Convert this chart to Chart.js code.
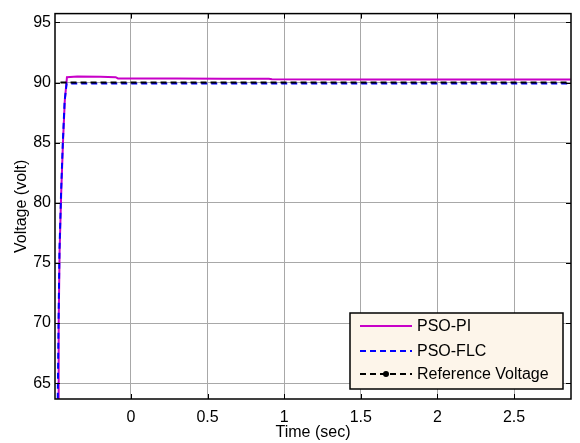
<!DOCTYPE html>
<html>
<head>
<meta charset="utf-8">
<script src="https://cdn.jsdelivr.net/npm/chart.js@4/dist/chart.umd.min.js"></script>
<style>
  html, body { margin: 0; padding: 0; background: #fff; }
  #wrap { width: 580px; height: 443px; }
</style>
</head>
<body>
<div id="wrap"><canvas id="VoltChart" width="580" height="443"></canvas></div>
<script>
// values
const piTime = [-0.476, -0.472, -0.466, -0.455, -0.444, -0.432, -0.418, -0.35, -0.2, -0.1, -0.085, 0.3, 0.6, 0.9, 0.92, 1.5, 2.0, 2.87]
const piVolt = [63.7, 70, 76, 81, 85, 88.5, 90.45, 90.5, 90.48, 90.45, 90.35, 90.35, 90.33, 90.32, 90.27, 90.26, 90.25, 90.25]
const flcTime = [-0.478, -0.473, -0.467, -0.456, -0.445, -0.433, -0.42, 2.87]
const flcVolt = [63.7, 70, 76, 81, 85, 88.5, 89.92, 89.93]
const refTime = [-0.46, 2.87]
const refVolt = [90, 90]

const xTicks = [0, 0.5, 1, 1.5, 2, 2.5]
const yTicks = [65, 70, 75, 80, 85, 90, 95]
const legendNames = ["PSO-PI", "PSO-FLC", "Reference Voltage"]

const FONT = "'Liberation Sans', Arial, sans-serif"

function pts(t, v) { return t.map((x, i) => ({x: x, y: v[i]})) }

// draws the box, the inward ticks and the legend (MATLAB look)
const matlabBox = {
  id: "matlabBox",
  afterDatasetsDraw(chart) {
    const ctx = chart.ctx, a = chart.chartArea
    const xs = chart.scales.x, ys = chart.scales.y
    ctx.save()
    ctx.strokeStyle = "#000"
    ctx.lineWidth = 1
    ctx.beginPath()
    xTicks.forEach(t => {
      const px = Math.round(xs.getPixelForValue(t)) + 0.5
      ctx.moveTo(px, a.bottom); ctx.lineTo(px, a.bottom - 5)
      ctx.moveTo(px, a.top); ctx.lineTo(px, a.top + 5)
    })
    yTicks.forEach(t => {
      const py = Math.round(ys.getPixelForValue(t)) + 0.5
      ctx.moveTo(a.left, py); ctx.lineTo(a.left + 5, py)
      ctx.moveTo(a.right, py); ctx.lineTo(a.right - 5, py)
    })
    ctx.stroke()
    ctx.lineWidth = 1.5
    ctx.strokeRect(a.left, a.top, a.right - a.left, a.bottom - a.top)

    // legend
    const lx = 350, ly = 313, lw = 213, lh = 76
    ctx.fillStyle = "#fdf5ea"
    ctx.fillRect(lx, ly, lw, lh)
    ctx.lineWidth = 1.5
    ctx.strokeRect(lx, ly, lw, lh)
    const rows = [326, 351, 374]
    ctx.font = "16px " + FONT
    ctx.textBaseline = "middle"
    chart.data.datasets.forEach((ds, i) => {
      const y = rows[i]
      ctx.strokeStyle = ds.borderColor
      ctx.lineWidth = 2
      ctx.setLineDash(ds.borderDash || [])
      ctx.beginPath()
      ctx.moveTo(360, y); ctx.lineTo(412, y)
      ctx.stroke()
      ctx.setLineDash([])
      if (i === 2) {
        ctx.fillStyle = "#000"
        ctx.beginPath()
        ctx.arc(386, y, 3, 0, Math.PI * 2)
        ctx.fill()
      }
      ctx.fillStyle = "#000"
      ctx.fillText(legendNames[i], 417, y + 1)
    })
    ctx.restore()
  }
}

new Chart("VoltChart", {
  type: "line",
  data: {
    datasets: [
      {label: legendNames[0], data: pts(piTime, piVolt), borderColor: "#c800c8", borderWidth: 2, pointRadius: 0, order: 3},
      {label: legendNames[1], data: pts(flcTime, flcVolt), borderColor: "#0000ff", borderWidth: 2, borderDash: [6, 4], pointRadius: 0, order: 2},
      {label: legendNames[2], data: pts(refTime, refVolt), borderColor: "#000000", borderWidth: 2, borderDash: [6, 4], pointRadius: 0, order: 1}
    ]
  },
  options: {
    responsive: false,
    animation: false,
    layout: {padding: {top: 10, right: 9, left: 0, bottom: 0}},
    plugins: {legend: {display: false}, tooltip: {enabled: false}},
    scales: {
      x: {
        type: "linear", min: -0.496, max: 2.872,
        afterFit: s => { s.height = 44 },
        afterBuildTicks: s => { s.ticks = xTicks.map(v => ({value: v})) },
        grid: {color: "#a8a8a8", borderDash: [1, 1], drawTicks: false},
        border: {display: false},
        ticks: {color: "#000", font: {size: 16, family: FONT}, padding: 9, maxRotation: 0, callback: v => String(v)},
        title: {display: true, text: "Time (sec)", color: "#000", font: {size: 16, family: FONT, lineHeight: 1.2}, padding: {top: 0, bottom: 1}}
      },
      y: {
        type: "linear", min: 63.68, max: 95.74,
        afterFit: s => { s.width = 55 },
        afterBuildTicks: s => { s.ticks = yTicks.map(v => ({value: v})) },
        grid: {color: "#a8a8a8", borderDash: [1, 1], drawTicks: false},
        border: {display: false},
        ticks: {color: "#000", font: {size: 16, family: FONT}, padding: 4},
        title: {display: true, text: "Voltage (volt)", color: "#000", font: {size: 16, family: FONT, lineHeight: 1.2}, padding: {top: 12, bottom: 0}}
      }
    }
  },
  plugins: [matlabBox]
})
</script>
</body>
</html>
